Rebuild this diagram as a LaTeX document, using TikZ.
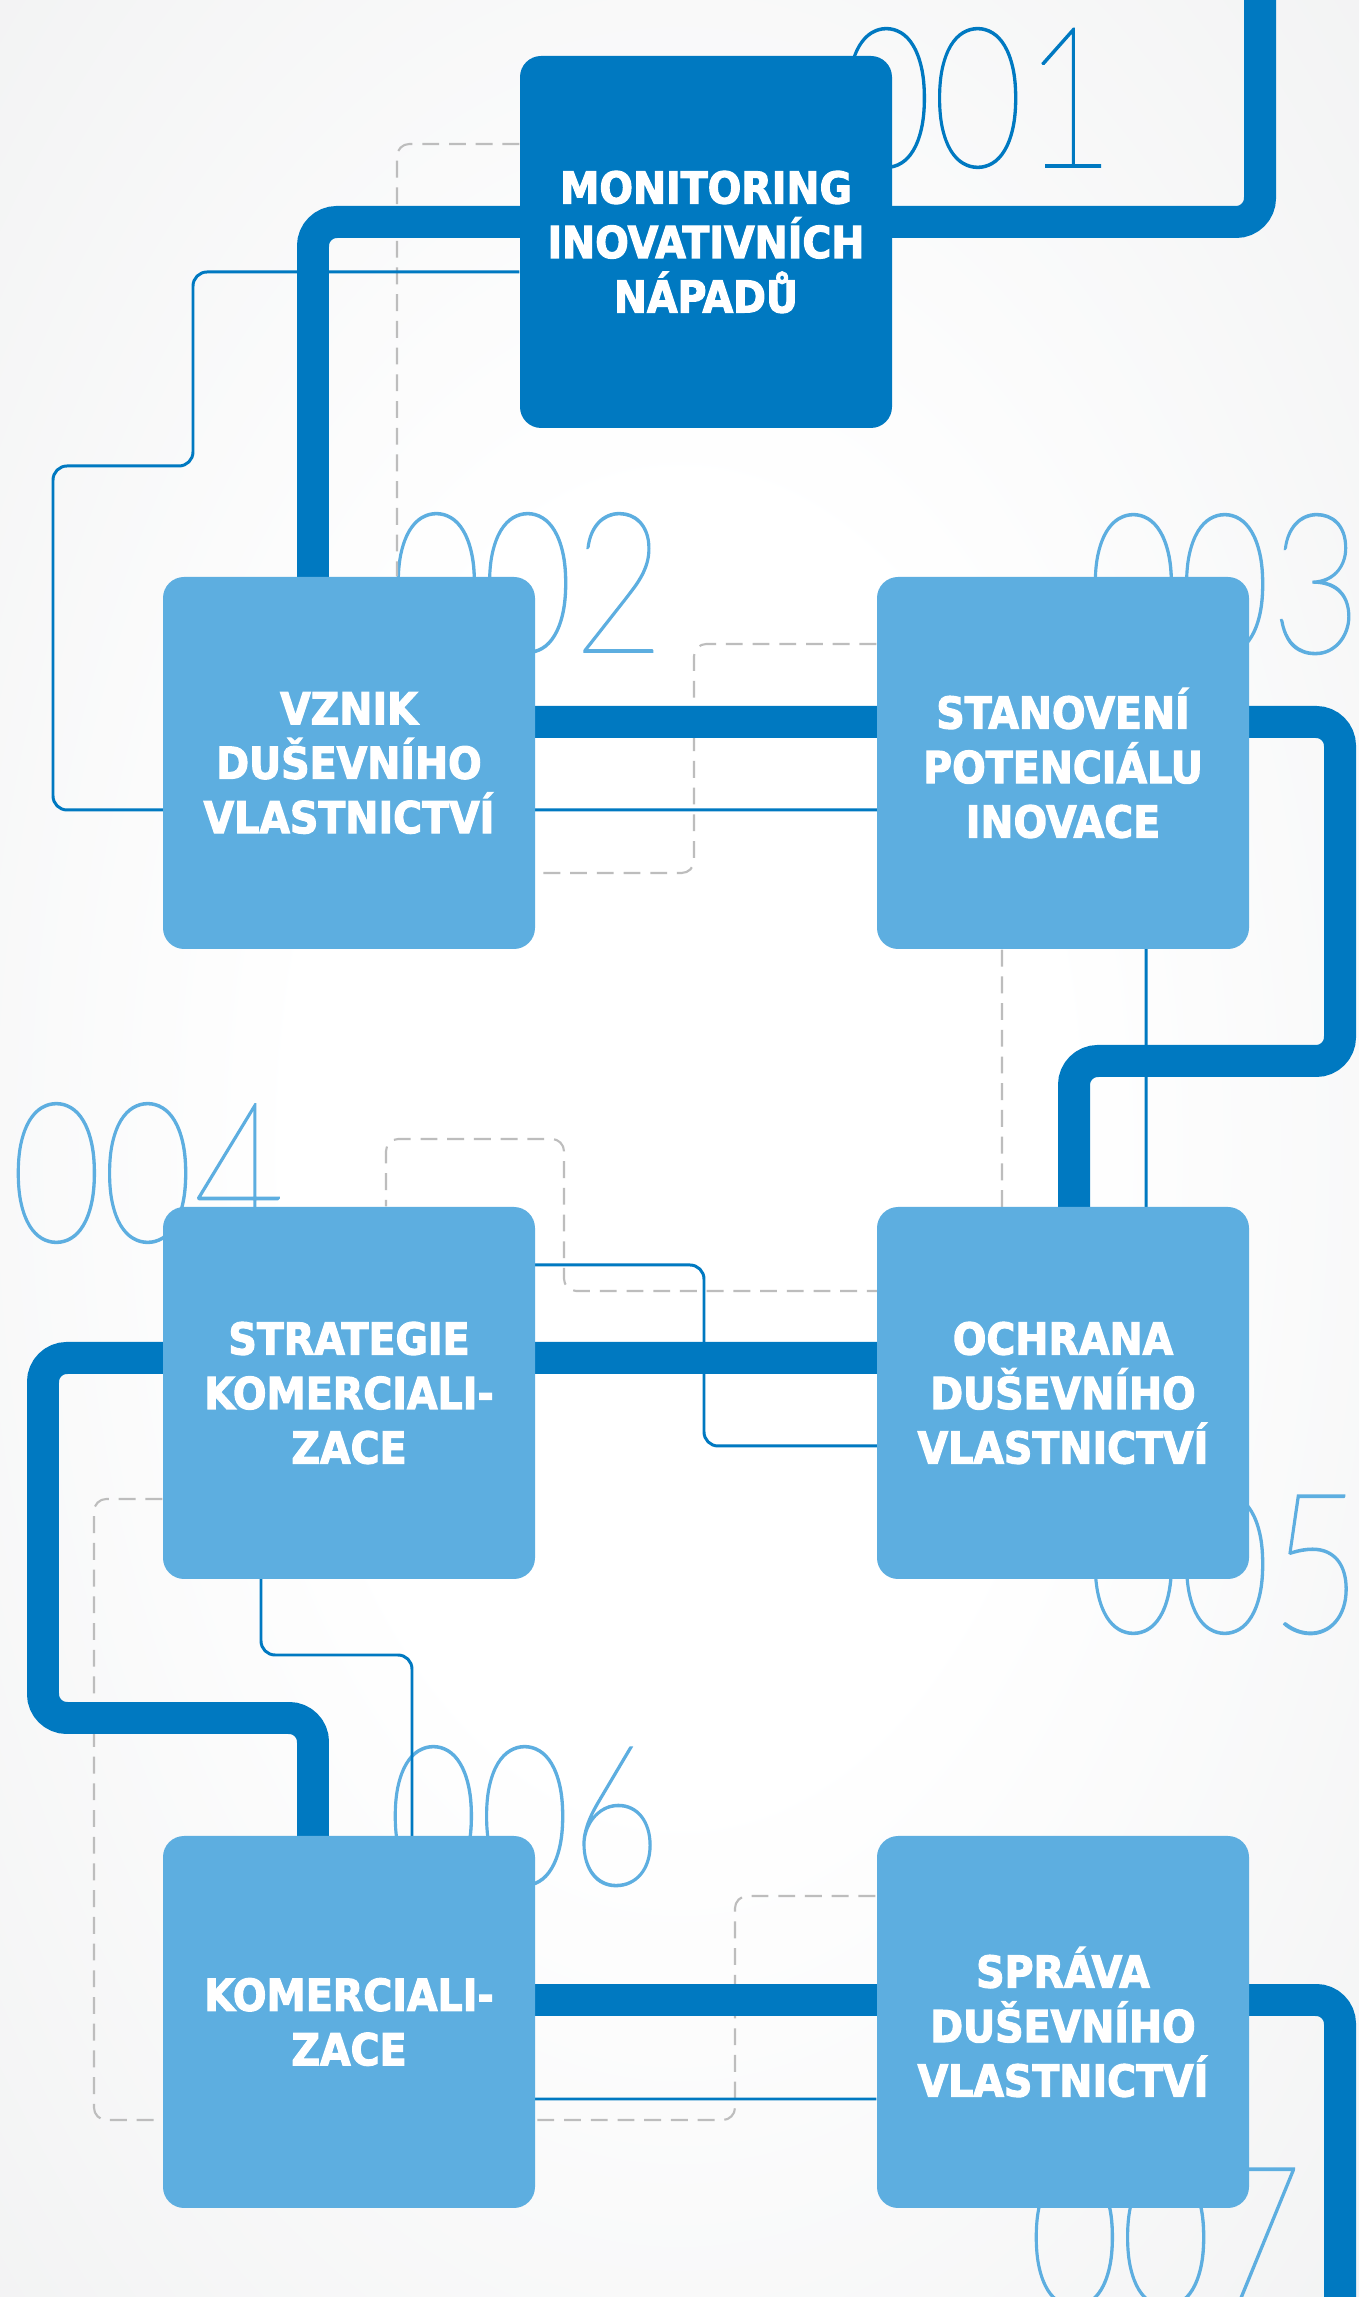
\documentclass[tikz,border=0pt]{standalone}
\usepackage{fontspec}
\usepackage{pgf,tikz}
\usepackage{tkz-euclide}
\usepackage{xcolor}
\usetikzlibrary{arrows, calc}
\IfFontExistsTF{DejaVuSansCondensed-Bold.ttf}
  {\newfontfamily\stagefont{DejaVuSansCondensed-Bold.ttf}[FakeBold=2.5]}
  {\newfontfamily\stagefont{DejaVu Sans Bold}[FakeStretch=0.88, FakeBold=2.5]}
\IfFontExistsTF{Lato Hairline}
  {\newfontfamily\numfont{Lato Hairline}[FakeBold=0.8]}
  {\newfontfamily\numfont{Fira Sans}}
\definecolor{pipeblue}{HTML}{0079C1}
\definecolor{boxblue}{HTML}{5DAEE0}
\definecolor{trailgray}{HTML}{BDBDBD}
\definecolor{bgedge}{HTML}{EAEBEC}
\definecolor{bgcorner}{HTML}{D7D8DA}
\pgfdeclareradialshading{backdrop}{\pgfpoint{0bp}{0bp}}{color(0bp)=(white); color(14bp)=(white); color(50bp)=(bgedge); color(72bp)=(bgcorner)}
\pgfdeclarelayer{back}
\pgfdeclarelayer{lines}
\pgfsetlayers{back,lines,main}
\newcommand{\stepnum}[1]{\scalebox{0.8}[1]{#1}}
\tikzset{
stage/.style={rectangle, rounded corners=6pt, fill=boxblue, inner sep=0pt,
    minimum width=3.72cm, minimum height=3.72cm, text=white, align=center,
    font=\stagefont\fontsize{12.5}{15.5}\selectfont},
pipe/.style={pipeblue, line width=9.1pt, rounded corners=6.8pt},
wire/.style={pipeblue, line width=0.85pt, rounded corners=4pt},
trail/.style={trailgray, line width=0.6pt, dash pattern=on 4.8pt off 2.8pt, rounded corners=3.5pt},
stepno/.style={anchor=base west, inner sep=0pt, text=boxblue,
    font=\numfont\fontsize{56}{56}\selectfont}
}

\begin{document}
\begin{tikzpicture}
    \useasboundingbox (0,0) rectangle (13.59,22.97);

    \node[stage, fill=pipeblue] (mon) at (7.06,20.55) {MONITORING\\INOVATIVNÍCH\\NÁPADŮ};
    \node[stage] (vznik) at (3.49,15.34) {VZNIK\\DUŠEVNÍHO\\VLASTNICTVÍ};
    \node[stage] (stanoveni) at (10.63,15.34) {STANOVENÍ\\POTENCIÁLU\\INOVACE};
    \node[stage] (strategie) at (3.49,9.04) {STRATEGIE\\KOMERCIALI-\\ZACE};
    \node[stage] (ochrana) at (10.63,9.04) {OCHRANA\\DUŠEVNÍHO\\VLASTNICTVÍ};
    \node[stage] (komerc) at (3.49,2.75) {KOMERCIALI-\\ZACE};
    \node[stage] (sprava) at (10.63,2.75) {SPRÁVA\\DUŠEVNÍHO\\VLASTNICTVÍ};

    \begin{pgfonlayer}{back}
    \shade[shading=backdrop] (0,0) rectangle (13.59,22.97);
    % stage numbers
    \node[stepno, text=pipeblue] (no_1) at (8.40,21.30) {\stepnum{001}};
    \node[stepno] (no_2) at (3.90,16.45) {\stepnum{002}};
    \node[stepno] (no_3) at (10.87,16.44) {\stepnum{003}};
    \node[stepno] (no_4) at (0.10,10.55) {\stepnum{004}};
    \node[stepno] (no_5) at (10.87,6.64) {\stepnum{005}};
    \node[stepno] (no_6) at (3.87,4.12) {\stepnum{006}};
    \node[stepno] (no_7) at (10.28,-0.09) {\stepnum{007}};
    \end{pgfonlayer}

    % route of the main pipe
    \tkzDefPoint(12.60,22.97){p_1}
    \tkzDefPoint(12.60,20.75){p_2}
    \tkzDefPoint(3.13,20.75){p_3}
    \tkzDefPoint(3.13,15.75){p_4}
    \tkzDefPoint(13.40,15.75){p_5}
    \tkzDefPoint(13.40,12.36){p_6}
    \tkzDefPoint(10.74,12.36){p_7}
    \tkzDefPoint(10.74,9.39){p_8}
    \tkzDefPoint(0.43,9.39){p_9}
    \tkzDefPoint(0.43,5.79){p_10}
    \tkzDefPoint(3.13,5.79){p_11}
    \tkzDefPoint(3.13,2.97){p_12}
    \tkzDefPoint(13.40,2.97){p_13}
    \tkzDefPoint(13.40,0){p_14}

    \begin{pgfonlayer}{lines}
    % dashed trails
    \draw[trail] ([yshift=9.8mm]mon.west) -- (3.97,21.53) -- (3.97,0 |- vznik.north);
    \draw[trail] ([yshift=11.9mm]stanoveni.west) -- (6.94,16.53) -- (6.94,14.24) -- ([yshift=-11mm]vznik.east);
    \draw[trail] (10.02,0 |- stanoveni.south) -- (10.02,10.06) -- (5.64,10.06) -- (5.64,11.58) -- (3.86,11.58) -- (3.86,0 |- strategie.north);
    \draw[trail] ([yshift=-10.6mm]strategie.west) -- (0.94,7.98) -- (0.94,1.77) -- (7.35,1.77) -- (7.35,4.01) -- ([yshift=12.6mm]sprava.west);
    % thin wire
    \draw[wire] ([yshift=-3mm]mon.west) -- (1.93,20.25) -- (1.93,18.31) -- (0.53,18.31) -- (0.53,14.87)
        -- (11.46,14.87) -- (11.46,8.51) -- (7.04,8.51) -- (7.04,10.32) -- (2.61,10.32)
        -- (2.61,6.42) -- (4.12,6.42) -- (4.12,1.98) -- ([yshift=-7.7mm]sprava.west);
    % main pipe
    \draw[pipe] (p_1) -- (p_2) -- (p_3) -- (p_4) -- (p_5) -- (p_6) -- (p_7) -- (p_8)
        -- (p_9) -- (p_10) -- (p_11) -- (p_12) -- (p_13) -- (p_14);
    \end{pgfonlayer}
\end{tikzpicture}
\end{document}
